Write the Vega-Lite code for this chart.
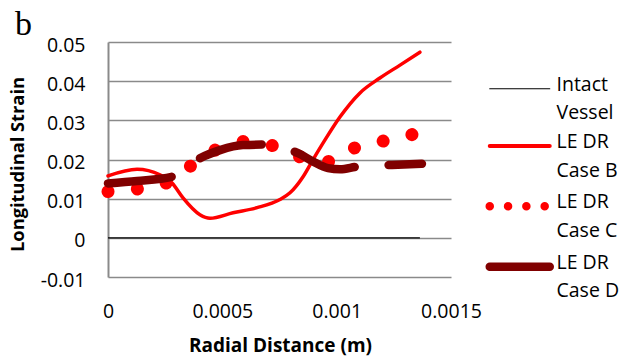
{
  "$schema": "https://vega.github.io/schema/vega-lite/v6.json",
  "width": 343,
  "height": 235,
  "autosize": {"type": "none"},
  "padding": {"left": 108, "top": 42, "right": 170, "bottom": 85},
  "background": "white",
  "title": {
    "text": "b",
    "anchor": "start",
    "frame": "group",
    "font": "Liberation Serif",
    "fontSize": 34,
    "fontWeight": "normal",
    "color": "#000000",
    "dx": -93,
    "dy": 37,
    "offset": 3,
    "baseline": "alphabetic"
  },
  "config": {
    "view": {"stroke": null},
    "axis": {
      "labelFont": "Open Sans",
      "labelFontSize": 19.5,
      "labelColor": "#000000",
      "titleFont": "Open Sans",
      "titleFontWeight": "bold",
      "titleColor": "#000000",
      "ticks": false,
      "tickSize": 0
    }
  },
  "data": {
    "values": [
      {"series": "Intact Vessel", "x": 0, "y": 0},
      {"series": "Intact Vessel", "x": 0.001364, "y": 0},

      {"series": "LE DR Case B", "x": 0, "y": 0.0158},
      {"series": "LE DR Case B", "x": 0.000127, "y": 0.0175},
      {"series": "LE DR Case B", "x": 0.000227, "y": 0.0161},
      {"series": "LE DR Case B", "x": 0.00028, "y": 0.014},
      {"series": "LE DR Case B", "x": 0.000328, "y": 0.0102},
      {"series": "LE DR Case B", "x": 0.000402, "y": 0.0059},
      {"series": "LE DR Case B", "x": 0.000446, "y": 0.005},
      {"series": "LE DR Case B", "x": 0.000547, "y": 0.0064},
      {"series": "LE DR Case B", "x": 0.000652, "y": 0.0077},
      {"series": "LE DR Case B", "x": 0.000752, "y": 0.0098},
      {"series": "LE DR Case B", "x": 0.000796, "y": 0.0115},
      {"series": "LE DR Case B", "x": 0.000853, "y": 0.0156},
      {"series": "LE DR Case B", "x": 0.000896, "y": 0.0199},
      {"series": "LE DR Case B", "x": 0.000949, "y": 0.025},
      {"series": "LE DR Case B", "x": 0.001015, "y": 0.0309},
      {"series": "LE DR Case B", "x": 0.001102, "y": 0.037},
      {"series": "LE DR Case B", "x": 0.001189, "y": 0.0408},
      {"series": "LE DR Case B", "x": 0.001277, "y": 0.0441},
      {"series": "LE DR Case B", "x": 0.001364, "y": 0.0474},

      {"series": "LE DR Case C", "x": 0, "y": 0.0118},
      {"series": "LE DR Case C", "x": 0.000131, "y": 0.0125},
      {"series": "LE DR Case C", "x": 0.000258, "y": 0.0141},
      {"series": "LE DR Case C", "x": 0.000363, "y": 0.0184},
      {"series": "LE DR Case C", "x": 0.000468, "y": 0.0224},
      {"series": "LE DR Case C", "x": 0.00059, "y": 0.0246},
      {"series": "LE DR Case C", "x": 0.000722, "y": 0.0235},
      {"series": "LE DR Case C", "x": 0.000844, "y": 0.0206},
      {"series": "LE DR Case C", "x": 0.000966, "y": 0.0195},
      {"series": "LE DR Case C", "x": 0.001076, "y": 0.0229},
      {"series": "LE DR Case C", "x": 0.001203, "y": 0.0247},
      {"series": "LE DR Case C", "x": 0.001325, "y": 0.0263},
      {"series": "LE DR Case C", "x": 0.00136, "y": 0.0267},

      {"series": "LE DR Case D", "x": 0, "y": 0.0139},
      {"series": "LE DR Case D", "x": 0.000127, "y": 0.0145},
      {"series": "LE DR Case D", "x": 0.00028, "y": 0.0156},
      {"series": "LE DR Case D", "x": 0.000341, "y": 0.018},
      {"series": "LE DR Case D", "x": 0.000402, "y": 0.0203},
      {"series": "LE DR Case D", "x": 0.00049, "y": 0.0224},
      {"series": "LE DR Case D", "x": 0.00059, "y": 0.0237},
      {"series": "LE DR Case D", "x": 0.000678, "y": 0.0238},
      {"series": "LE DR Case D", "x": 0.000752, "y": 0.0232},
      {"series": "LE DR Case D", "x": 0.000831, "y": 0.0216},
      {"series": "LE DR Case D", "x": 0.000896, "y": 0.0195},
      {"series": "LE DR Case D", "x": 0.000962, "y": 0.0178},
      {"series": "LE DR Case D", "x": 0.001015, "y": 0.0175},
      {"series": "LE DR Case D", "x": 0.001093, "y": 0.0182},
      {"series": "LE DR Case D", "x": 0.001242, "y": 0.0186},
      {"series": "LE DR Case D", "x": 0.001373, "y": 0.0189}
    ]
  },
  "encoding": {
    "x": {
      "field": "x",
      "type": "quantitative",
      "scale": {"domain": [0, 0.0015], "nice": false, "zero": false},
      "axis": {
        "title": "Radial Distance (m)",
        "titleFontSize": 19,
        "titleX": 172,
        "titleY": 74,
        "titleBaseline": "alphabetic",
        "values": [0, 0.0005, 0.001, 0.0015],
        "labelExpr": "toString(datum.value)",
        "labelBaseline": "alphabetic",
        "labelPadding": 40,
        "labelFlush": false,
        "labelOverlap": false,
        "grid": false,
        "domain": false
      }
    },
    "y": {
      "field": "y",
      "type": "quantitative",
      "scale": {"domain": [-0.01, 0.05], "nice": false, "zero": false},
      "axis": {
        "title": "Longitudinal Strain",
        "titleFontSize": 18.3,
        "titleX": -85,
        "titleY": 122,
        "titleAngle": -90,
        "titleAlign": "center",
        "titleBaseline": "alphabetic",
        "values": [-0.01, 0, 0.01, 0.02, 0.03, 0.04, 0.05],
        "labelExpr": "toString(round(datum.value * 100) / 100)",
        "labelPadding": 23,
        "labelOffset": 3,
        "labelFlush": false,
        "labelOverlap": false,
        "grid": true,
        "gridColor": "#8a8a8a",
        "gridWidth": 1.5,
        "domain": true,
        "domainColor": "#8a8a8a",
        "domainWidth": 2
      }
    },
    "color": {
      "field": "series",
      "type": "nominal",
      "scale": {
        "domain": ["Intact Vessel", "LE DR Case B", "LE DR Case C", "LE DR Case D"],
        "range": ["#000000", "#ff0000", "#ff0000", "#800000"]
      },
      "legend": {
        "title": null,
        "orient": "none",
        "legendX": 402,
        "legendY": 37,
        "symbolType": "stroke",
        "symbolSize": 3600,
        "labelFont": "Open Sans",
        "labelFontSize": 19.5,
        "labelColor": "#000000",
        "labelOffset": 27,
        "labelBaseline": "top",
        "rowPadding": 8.3,
        "labelExpr": "datum.label === 'Intact Vessel' ? ['Intact', 'Vessel'] : ['LE DR', replace(datum.label, 'LE DR ', '')]",
        "encode": {
          "symbols": {
            "update": {
              "strokeCap": {"value": "round"},
              "strokeDash": {"signal": "datum.value === 'LE DR Case C' ? [0.01, 18.3] : [1, 0]"},
              "strokeWidth": {"signal": "datum.value === 'Intact Vessel' ? 1.2 : datum.value === 'LE DR Case B' ? 4 : 8.5"}
            }
          },
          "labels": {
            "update": {
              "lineHeight": {"value": 28.5},
              "dy": {"value": -13}
            }
          }
        }
      }
    }
  },
  "layer": [
    {
      "transform": [{"filter": "datum.series === 'Intact Vessel'"}],
      "mark": {"type": "line", "interpolate": "linear", "strokeWidth": 1.2, "clip": false}
    },
    {
      "transform": [{"filter": "datum.series === 'LE DR Case B'"}],
      "mark": {"type": "line", "interpolate": "monotone", "strokeWidth": 3.5, "strokeCap": "round", "strokeJoin": "round", "clip": false}
    },
    {
      "transform": [{"filter": "datum.series === 'LE DR Case C'"}],
      "mark": {"type": "line", "interpolate": "monotone", "strokeWidth": 13, "strokeCap": "round", "strokeDash": [0.01, 29.5], "clip": false}
    },
    {
      "transform": [{"filter": "datum.series === 'LE DR Case D'"}],
      "mark": {"type": "line", "interpolate": "monotone", "strokeWidth": 8.5, "strokeCap": "round", "strokeJoin": "round", "strokeDash": [64, 34], "clip": false}
    }
  ]
}
